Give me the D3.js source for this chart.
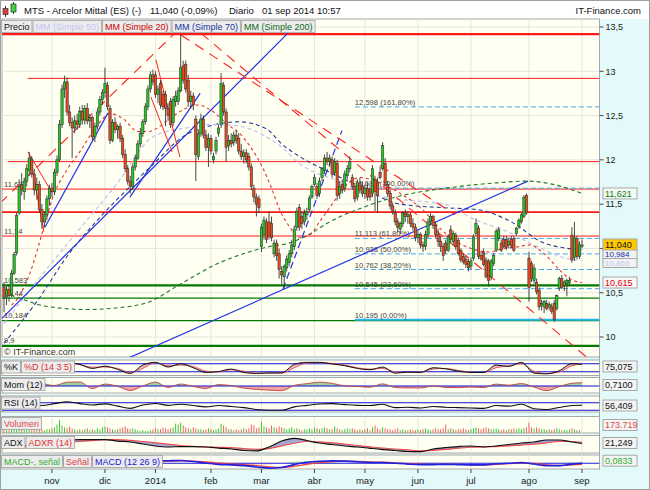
<!DOCTYPE html>
<html><head><meta charset="utf-8">
<script src="https://cdn.jsdelivr.net/npm/d3@7"></script>
<style>
body{margin:0;background:#fff;}
svg{display:block;font-family:"Liberation Sans",Arial,sans-serif;}
</style></head><body>
<svg id="c" width="650" height="490"></svg>
<script>
// ---------------- DATA ----------------
const candles = [
[10.56,10.62,10.28,10.45],[10.45,10.58,10.36,10.54],[10.54,10.60,10.40,10.47],[10.48,10.76,10.45,10.72],[10.72,10.96,10.70,10.93],
[10.95,11.40,10.92,11.37],[11.40,11.78,11.38,11.70],[11.72,11.85,11.60,11.66],[11.64,11.80,11.55,11.76],[11.76,11.95,11.70,11.90],
[11.88,12.09,11.82,12.02],[12.00,12.04,11.80,11.84],[11.84,11.90,11.60,11.66],[11.66,11.80,11.55,11.72],[11.72,11.76,11.40,11.44],
[11.44,11.50,11.22,11.30],[11.30,11.42,11.24,11.38],[11.38,11.60,11.32,11.56],[11.56,11.72,11.48,11.68],[11.68,11.74,11.58,11.64],
[11.64,11.90,11.60,11.86],[11.86,12.05,11.82,12.00],[12.00,12.45,11.98,12.40],[12.40,12.85,12.36,12.80],[12.80,12.95,12.70,12.88],
[12.88,12.93,12.50,12.54],[12.54,12.62,12.38,12.42],[12.42,12.48,12.02,12.36],[12.36,12.50,12.30,12.44],[12.44,12.52,12.34,12.40],
[12.40,12.60,12.36,12.55],[12.55,12.62,12.40,12.45],[12.45,12.62,12.40,12.58],[12.58,12.64,12.40,12.44],[12.44,12.52,12.36,12.48],
[12.48,12.50,12.22,12.26],[12.26,12.42,12.20,12.38],[12.38,12.58,12.34,12.54],[12.54,12.72,12.50,12.68],[12.68,12.80,12.62,12.76],
[12.76,13.04,12.70,12.86],[12.84,12.88,12.56,12.60],[12.58,12.62,12.18,12.22],[12.22,12.46,12.20,12.42],[12.42,12.48,12.30,12.34],
[12.34,12.40,12.24,12.38],[12.38,12.42,12.20,12.24],[12.24,12.28,12.02,12.06],[12.06,12.12,11.86,11.90],[11.90,11.94,11.72,11.76],
[11.76,11.82,11.62,11.70],[11.70,11.96,11.66,11.92],[11.92,12.06,11.88,12.02],[12.02,12.22,12.00,12.18],[12.18,12.36,12.14,12.30],
[12.30,12.46,12.26,12.43],[12.43,12.64,12.40,12.60],[12.60,12.84,12.56,12.80],[12.80,13.00,12.76,12.96],[12.96,13.02,12.84,12.88],
[12.96,13.00,12.70,12.74],[12.74,12.84,12.64,12.80],[12.86,12.90,12.58,12.62],[12.74,12.78,12.56,12.60],[12.74,12.78,12.38,12.58],
[12.58,12.64,12.44,12.50],[12.66,12.70,12.36,12.40],[12.42,12.72,12.38,12.68],[12.66,12.78,12.60,12.72],[12.66,12.82,12.62,12.78],
[12.78,13.41,12.76,13.04],[13.06,13.12,12.86,12.90],[13.08,13.12,12.76,12.80],[12.90,12.96,12.60,12.66],[12.66,12.78,12.58,12.72],
[12.72,12.76,12.56,12.62],[12.46,12.50,11.76,12.06],[12.04,12.34,12.00,12.30],[12.30,12.52,12.26,12.46],[12.46,12.50,12.24,12.28],
[12.28,12.34,12.10,12.14],[12.14,12.30,11.92,12.24],[12.24,12.28,12.06,12.10],[12.00,12.08,11.96,12.04],[12.10,12.26,12.06,12.22],
[12.30,12.40,12.26,12.36],[12.40,12.98,12.36,12.86],[12.84,12.88,12.50,12.54],[12.54,12.58,11.98,12.14],[12.16,12.28,12.10,12.22],
[12.22,12.30,12.14,12.18],[12.20,12.32,12.16,12.28],[12.28,12.34,12.18,12.22],[12.24,12.30,12.06,12.10],[12.10,12.18,12.00,12.04],
[12.04,12.12,11.96,12.08],[12.08,12.12,11.96,12.00],[12.04,12.08,11.88,11.92],[11.92,11.96,11.66,11.70],[11.68,11.72,11.52,11.58],
[11.58,11.62,11.36,11.50],[11.56,11.60,11.40,11.46],[11.02,11.28,10.96,11.24],[11.16,11.36,11.10,11.32],[11.30,11.34,11.06,11.10],
[11.30,11.42,11.10,11.14],[11.28,11.36,11.08,11.12],[10.94,11.10,10.90,11.06],[11.06,11.10,10.86,10.92],[10.94,11.00,10.66,10.76],
[10.74,10.80,10.60,10.70],[10.68,10.82,10.55,10.80],[10.78,10.92,10.74,10.88],[10.84,10.98,10.80,10.94],[10.94,11.10,10.90,11.04],
[11.02,11.26,10.98,11.22],[11.24,11.46,11.20,11.42],[11.46,11.50,11.20,11.24],[11.36,11.42,11.22,11.28],[11.30,11.44,11.26,11.40],
[11.38,11.46,11.32,11.42],[11.44,11.60,11.42,11.57],[11.58,11.72,11.56,11.70],[11.72,11.84,11.70,11.80],[11.70,11.74,11.56,11.60],
[11.62,11.80,11.58,11.76],[11.80,11.92,11.76,11.90],[11.88,12.06,11.84,12.02],[12.02,12.09,11.94,11.98],[11.98,12.06,11.92,12.02],
[12.00,12.04,11.80,11.84],[11.86,12.02,11.82,11.98],[11.96,12.00,11.54,11.60],[11.62,11.76,11.56,11.70],[11.72,11.78,11.62,11.66],
[11.68,11.88,11.64,11.84],[11.82,11.94,11.78,11.90],[11.90,12.04,11.86,11.98],[11.80,11.84,11.66,11.70],[11.70,11.74,11.52,11.56],
[11.58,11.78,11.54,11.74],[11.74,11.80,11.62,11.66],[11.70,11.76,11.58,11.62],[11.62,11.72,11.56,11.68],[11.68,11.74,11.54,11.58],
[11.66,11.70,11.54,11.58],[11.62,11.94,11.58,11.90],[11.78,11.82,11.42,11.64],[11.74,11.80,11.40,11.60],[11.86,11.92,11.78,11.80],
[11.90,12.20,11.88,12.16],[11.96,12.02,11.70,11.74],[11.72,11.76,11.58,11.62],[11.62,11.66,11.44,11.48],[11.48,11.52,11.38,11.42],
[11.40,11.44,11.26,11.30],[11.30,11.34,11.18,11.24],[11.22,11.30,11.16,11.28],[11.28,11.42,11.24,11.40],[11.40,11.44,11.30,11.36],
[11.36,11.42,11.28,11.38],[11.38,11.40,11.24,11.28],[11.28,11.34,11.20,11.24],[11.24,11.28,11.08,11.12],[11.12,11.20,11.06,11.16],
[11.16,11.18,11.00,11.04],[11.04,11.08,10.96,11.02],[11.02,11.20,10.98,11.16],[11.16,11.34,11.12,11.30],[11.30,11.40,11.26,11.36],
[11.36,11.38,11.22,11.26],[11.26,11.30,11.12,11.16],[11.16,11.22,11.02,11.08],[11.08,11.14,10.96,11.02],[11.02,11.06,10.86,10.92],
[11.06,11.10,10.94,10.98],[10.98,11.16,10.96,11.13],[11.21,11.26,11.06,11.10],[11.08,11.20,11.04,11.17],[11.15,11.18,10.98,11.02],
[11.09,11.12,10.92,10.94],[10.98,11.00,10.84,10.87],[10.91,10.94,10.82,10.85],[10.88,10.92,10.78,10.82],[10.85,10.88,10.74,10.78],
[10.80,10.90,10.76,10.86],[10.89,11.16,10.86,11.13],[11.17,11.34,11.14,11.28],[11.23,11.26,10.88,10.91],[10.92,10.96,10.86,10.88],
[10.96,11.00,10.80,10.82],[10.87,10.90,10.66,10.68],[10.85,10.88,10.57,10.64],[10.68,10.88,10.64,10.86],[10.83,10.95,10.80,10.92],
[10.98,11.22,10.96,11.19],[11.11,11.24,11.08,11.21],[11.06,11.10,10.96,10.98],[11.10,11.14,11.00,11.02],[11.10,11.14,10.98,11.01],
[11.04,11.12,11.00,11.08],[11.10,11.14,11.00,11.03],[11.11,11.14,10.96,10.98],[11.17,11.24,11.14,11.23],[11.25,11.34,11.22,11.32],
[11.30,11.40,11.28,11.38],[11.36,11.60,11.34,11.58],[11.60,11.62,11.38,11.40],[10.89,10.96,10.40,10.56],[10.83,10.86,10.62,10.66],
[10.64,10.82,10.60,10.78],[10.62,10.66,10.48,10.51],[10.53,10.56,10.30,10.34],[10.36,10.42,10.30,10.38],[10.34,10.42,10.27,10.40],
[10.38,10.42,10.30,10.32],[10.34,10.40,10.30,10.37],[10.34,10.38,10.26,10.29],[10.38,10.42,10.17,10.20],[10.32,10.48,10.30,10.47],
[10.55,10.68,10.52,10.66],[10.66,10.70,10.54,10.56],[10.58,10.64,10.52,10.62],[10.60,10.66,10.46,10.64],[10.61,10.68,10.58,10.64],
[11.15,11.24,10.84,10.87],[10.90,11.30,10.86,11.12],[11.11,11.14,10.88,10.91],[10.91,11.08,10.88,11.04],[11.02,11.10,11.00,11.04]
];
const volume = [
4,3,3,5,6,8,7,5,4,4,6,5,4,4,5,4,3,4,4,
5,6,9,14,8,6,5,7,5,4,3,4,3,4,5,3,4,3,5,4,6,
7,6,5,4,3,4,5,6,7,5,4,5,4,3,2,3,2,2,3,4,
5,4,4,6,5,4,5,6,10,9,11,8,6,5,4,6,5,4,4,3,4,5,
4,3,4,5,10,8,6,4,4,3,4,3,4,5,4,5,9,8,5,6,
12,7,6,5,8,6,5,7,6,5,4,5,6,4,5,4,3,4,4,5,4,
6,5,4,5,6,5,4,4,7,5,4,3,4,5,4,5,4,3,4,3,
4,5,3,6,8,5,4,6,5,4,4,3,4,5,3,4,3,3,4,3,3,
4,3,4,5,4,3,4,5,4,4,5,9,4,5,4,3,4,4,5,4,3,
4,5,6,5,4,5,6,5,4,4,5,4,3,4,3,4,4,5,4,5,4,5,6,
11,6,5,6,5,4,4,3,4,3,4,5,4,3,3,3,4,5,4,3,3,
0.17
];
const macdHist = [
3,4,4,5,5, 6,7,8,9,10, 10,8,7,5,4, 4,3,3,2,2, 2,3,4,5,6, 6,5,5,4,4, 4,3,2,1,0, -1,-1,0,0,0,
0,-1,-2,-3,-4, -5,-6,-7,-8,-8, -8,-7,-6,-4,-3, -3,-1,1,2,3, 4,4,3,3,3, 3,3,3,3,3, 3,1,0,-1,-2,
-3,-4,-5,-6,-7, -8,-9,-9,-10,-10, -10,-9,-8,-8,-7, -7,-7,-7,-7,-7, -7,-8,-9,-9,-10, -10,-10,-10,-10,-10,
-10,-8,-6,-4,-2, -1,2,5,8,10, 12,13,14,15,16, 16,15,14,13,12, 11,10,9,8,7, 6,5,4,3,2,
1,0,-1,-1,-2, -2,-3,-3,-4,-4, -4,-3,-3,-2,-2, -2,-3,-3,-4,-4, -4,-4,-4,-4,-4, -4,-4,-3,-3,-3,
-3,-2,-2,-1,-1, -1,0,1,1,1, 1,1,0,0,-1, -1,-1,-1,-1,-1, -1,-1,-1,0,0, 0,1,2,3,4,
4,4,4,3,3, 3,3,3,3,3, 3,2,0,-3,-5, -6,-6,-6,-6,-6, -6,-5,-4,-3,-2, -1,1,3,4,5, 6,6,7,8,8
];
// moving averages: [bar index, value]
const ma20 = [[3,10.36],[5,10.42],[10,10.70],[16,11.26],[19,11.55],[25,11.89],[30,12.09],[37,12.39],[42,12.52],[47,12.47],[53,12.32],[57,12.32],[66,12.47],[70,12.55],[77,12.62],[82,12.56],[89,12.39],[94,12.28],[98,12.13],[102,11.94],[106,11.68],[109,11.45],[113,11.25],[117,11.12],[121,11.15],[125,11.30],[130,11.50],[135,11.70],[141,11.80],[149,11.74],[157,11.62],[165,11.46],[173,11.22],[179,11.08],[185,11.00],[192,10.96],[198,11.00],[204,11.02],[208,11.04],[214,10.94],[220,10.76],[224,10.66],[229,10.615]];
const ma50 = [[0,10.15],[15,10.70],[30,11.22],[45,11.74],[58,12.24],[66,12.33],[72,12.36],[80,12.40],[91,12.39],[104,12.26],[111,12.12],[117,11.96],[123,11.86],[129,11.80],[141,11.64],[155,11.56],[174,11.50],[187,11.32],[201,11.17],[207,11.08],[216,10.96],[224,10.88],[229,10.869]];
const ma70 = [[0,9.93],[13,10.40],[26,10.95],[38,11.35],[50,11.70],[58,11.92],[72,12.28],[80,12.37],[93,12.43],[104,12.35],[110,12.18],[117,12.04],[129,11.86],[141,11.70],[157,11.50],[174,11.46],[187,11.44],[201,11.30],[214,11.06],[229,10.984]];
const ma200 = [[0,10.50],[6,10.44],[16,10.35],[33,10.31],[45,10.33],[57,10.39],[70,10.60],[84,10.82],[97,10.96],[105,11.02],[113,11.06],[121,11.16],[129,11.30],[142,11.46],[155,11.58],[175,11.68],[195,11.74],[207,11.76],[218,11.72],[229,11.621]];
// indicator samples
const sampleIdx = [0,5,10,15,20,25,30,35,40,45,50,55,60,65,70,75,80,85,90,95,100,105,110,115,120,125,130,135,140,145,150,155,160,165,170,175,180,185,190,195,200,205,210,215,220,225,229];
const stochK = [70,90,92,35,75,88,75,45,62,38,8,70,90,55,80,50,15,22,40,15,8,12,12,75,90,90,78,65,45,35,55,10,18,15,50,42,25,15,15,70,60,90,10,5,28,80,75.075];
const stochD = [65,80,90,55,55,85,72,55,55,45,15,45,88,65,70,60,25,20,35,25,10,10,10,50,85,88,82,70,50,40,45,20,15,18,40,45,30,18,15,50,65,80,25,8,18,65,78];
const mom = [0.3,0.9,1.3,0.58,0.10,0.82,0.87,-0.54,0.42,-0.06,-0.98,0.01,0.84,-0.30,0.42,-0.10,-0.54,0.30,0.08,-0.46,-0.72,-0.90,-1.00,0.12,0.50,0.82,0.56,0.04,-0.10,-0.26,0.46,-0.32,-0.42,-0.44,0.02,-0.30,-0.36,-0.22,-0.35,0.41,0.17,0.52,-0.23,-1.00,-0.12,0.58,0.71];
const rsi = [55,68,72,55,65,75,65,58,64,52,40,58,66,56,62,55,48,55,50,44,34,30,30,48,56,63,65,60,56,55,62,44,46,42,50,46,44,42,40,55,52,62,38,34,45,55,56.409];
const adx = [16.1,17.3,19.5,21.8,24,25.2,25.7,25.7,25.7,24,22.9,20.7,18.4,17.3,17.8,17.8,17.3,16.1,15,13.3,12.8,17.3,24,27.1,24.6,21.8,20.1,18.4,17.3,15.8,14.4,13.3,12.2,12,15,16.7,17.8,18.4,17.3,18.4,20.1,21.8,22.9,25.2,25.2,22.9,21.249];
const adxr = [17,17,17.5,18.5,20,22,23.5,24.5,25.5,25.5,24.7,23.5,22,20.5,19,18,17.5,17,16.5,15.5,14.7,15.5,18.5,21.5,23.5,23,22,20.5,19,17.5,16,15,14,13,13.5,14.5,16,17,17.5,17.8,18.5,19.5,20.5,22,23.5,23.5,22.5];
const macd = [0.05,0.12,0.22,0.22,0.24,0.32,0.34,0.30,0.30,0.22,0.10,0.10,0.18,0.20,0.22,0.14,0.02,-0.08,-0.12,-0.18,-0.28,-0.37,-0.32,-0.10,0.08,0.16,0.19,0.17,0.12,0.06,0.06,0.0,-0.06,-0.10,-0.10,-0.08,-0.10,-0.12,-0.12,-0.04,0.0,0.06,-0.06,-0.18,-0.18,-0.06,0.0];
const signal = [0.02,0.06,0.12,0.18,0.22,0.26,0.30,0.31,0.30,0.27,0.18,0.13,0.14,0.17,0.19,0.17,0.10,0.02,-0.05,-0.11,-0.18,-0.27,-0.31,-0.22,-0.08,0.05,0.13,0.16,0.14,0.10,0.08,0.04,-0.02,-0.07,-0.09,-0.09,-0.09,-0.11,-0.12,-0.08,-0.03,0.03,0.0,-0.12,-0.17,-0.12,-0.083];
// axis / annotations
const monthIdx = [19,40,60,82,102,123,143,164,185,208,229];
const monthLbl = ["nov","dic","2014","feb","mar","abr","may","jun","jul","ago","sep"];
const priceTicks = [10,10.5,11,11.5,12,12.5,13,13.5];
// "11" is hidden behind the last-value boxes in the reference
const priceTickLbl = ["10","10,5","","11,5","12","12,5","13","13,5"];
const redLevels = [13.42,12.92,11.98,11.67,11.41,11.14];
const redLevelStart = [-2,9.5,1.6,-2,-2,-2];
const greenLevels = [10.583,10.44,10.184,9.9];
const leftLabels = ["11,67","11,14","10,583","10,44","10,184","9,9"];
const leftLabelVals = [11.67,11.14,10.583,10.44,10.184,9.9];
const fibVals = [10.195,10.546,10.762,10.938,11.113,11.681,12.598];
const fibLbl = ["10,195 (0,00%)","10,545 (23,60%)","10,762 (38,20%)","10,938 (50,00%)","11,113 (61,80%)","11,681 (100,00%)","12,598 (161,80%)"];
const fibStart = 139;
const blueLines = [[[-0.8,10.21],[112.5,13.43]],[[16.2,11.24],[41.2,12.53]],[[49.9,11.58],[77.7,12.75]],[[47.5,9.74],[207.6,11.76]]];
const blueDashLines = [[[110.5,10.54],[133.9,12.33]]];
const redLines = [[[9.5,12.09],[19,11.63]],[[10.3,12.04],[15.8,11.19]],[[60.2,13.13],[69.7,12.03]],[[58.2,12.71],[66.6,12.09]]];
const redDashLines = [[[-1.6,11.51],[67.7,13.43]],[[70.1,13.41],[178.7,11.38]],[[78.0,13.43],[232.2,9.74]]];
const lastVals = {ma200:"11,621",close:"11,040",ma70:"10,984",ma50:"10,869",ma20:"10,615"};

// ---------------- DRAW ----------------
const svg = d3.select("#c");
const X = d3.scaleLinear().domain([0,229]).range([4,582]);
const Y = d3.scaleLinear().domain([10,13.5]).range([337,27]);
const PL=2, PR=599.5, PT=19, PB=357;
const IVORY="#fffff2", CYAN="#e4fafa", GRID="#e6e6e0";
const UP="#22cc22", DN="#f04a1a";

svg.append("rect").attr("width",650).attr("height",490).attr("fill","#fff");
svg.append("rect").attr("x",PR).attr("y",PT).attr("width",650-PR-1).attr("height",470-PT).attr("fill",CYAN);
svg.append("rect").attr("x",1).attr("y",PB).attr("width",648).attr("height",132).attr("fill",CYAN);
svg.append("rect").attr("x",0.5).attr("y",0.5).attr("width",649).attr("height",489).attr("fill","none").attr("stroke","#a0a0a0");
svg.append("line").attr("x1",PR).attr("x2",PR).attr("y1",PT).attr("y2",469).attr("stroke","#a0a0a0");

// header
const hd = svg.append("g").attr("font-size",9.5).attr("fill","#111");
hd.append("line").attr("x1",5.5).attr("x2",5.5).attr("y1",6).attr("y2",17).attr("stroke","#333");
hd.append("rect").attr("x",3).attr("y",8.5).attr("width",5).attr("height",6).attr("fill","#e04040").attr("stroke","#333").attr("stroke-width",0.7);
hd.append("line").attr("x1",13.5).attr("x2",13.5).attr("y1",2).attr("y2",14).attr("stroke","#333");
hd.append("rect").attr("x",11).attr("y",4).attr("width",5).attr("height",8).attr("fill","#40d040").attr("stroke","#333").attr("stroke-width",0.7);
hd.append("text").attr("x",24).attr("y",14).text("MTS - Arcelor Mittal (ES) (-)");
hd.append("text").attr("x",150).attr("y",14).text("11,040 (-0,09%)");
hd.append("text").attr("x",229).attr("y",14).text("Diario");
hd.append("text").attr("x",262).attr("y",14).text("01 sep 2014 10:57");
hd.append("text").attr("x",641).attr("y",14).attr("text-anchor","end").text("IT-Finance.com");

// main panel
svg.append("rect").attr("x",PL).attr("y",PT).attr("width",PR-PL).attr("height",PB-PT).attr("fill",IVORY).attr("stroke","#a8a8a8");
svg.append("clipPath").attr("id","mc").append("rect").attr("x",PL).attr("y",PT).attr("width",PR-PL).attr("height",PB-PT);
const m = svg.append("g").attr("clip-path","url(#mc)");
m.selectAll(".hg").data(priceTicks).join("line").attr("x1",PL).attr("x2",PR).attr("y1",d=>Y(d)).attr("y2",d=>Y(d)).attr("stroke",GRID);
m.selectAll(".vg").data(monthIdx).join("line").attr("x1",d=>X(d)).attr("x2",d=>X(d)).attr("y1",PT).attr("y2",PB).attr("stroke",GRID);

m.selectAll(".rl").data(redLevels).join("line")
 .attr("x1",(d,i)=>X(redLevelStart[i])).attr("x2",PR).attr("y1",d=>Y(d)).attr("y2",d=>Y(d))
 .attr("stroke","#ff1a1a").attr("stroke-width",(d,i)=>i===0?2.2:(i===4?1.6:1));
m.selectAll(".gl").data(greenLevels).join("line")
 .attr("x1",PL).attr("x2",PR).attr("y1",d=>Y(d)).attr("y2",d=>Y(d))
 .attr("stroke","#007a00").attr("stroke-width",(d,i)=>(i===0||i===3)?2.4:1.3);
m.selectAll(".fl").data(fibVals).join("line")
 .attr("x1",X(fibStart)).attr("x2",PR).attr("y1",d=>Y(d)).attr("y2",d=>Y(d))
 .attr("stroke",(d,i)=>i===0?"#22b8ee":"#44aaf0").attr("stroke-width",(d,i)=>i===0?2:1)
 .attr("stroke-dasharray",(d,i)=>i===0?null:"5,3");
m.selectAll(".ft").data(fibVals).join("text")
 .attr("x",X(fibStart)).attr("y",d=>Y(d)-2).attr("font-size",7.6).attr("fill","#444")
 .text((d,i)=>fibLbl[i]);
m.selectAll(".lt").data(leftLabelVals).join("text")
 .attr("x",4).attr("y",d=>Y(d)-2.5).attr("font-size",7.6).attr("fill","#444")
 .text((d,i)=>leftLabels[i]);

const maLine = d3.line().x(d=>X(d[0])).y(d=>Y(d[1])).curve(d3.curveMonotoneX);
[[ma200,"#1f7a2a","4,3",1.1],[ma70,"#1e3c9c","4,3",1.1],[ma50,"#c4c4f2","4,3",1.3],[ma20,"#e83030","3,3",1.1]].forEach(([d,c,da,w])=>{
  m.append("path").attr("d",maLine(d)).attr("fill","none").attr("stroke",c).attr("stroke-width",w).attr("stroke-dasharray",da);
});
const seg = d3.line().x(d=>X(d[0])).y(d=>Y(d[1]));
blueLines.forEach(s=>m.append("path").attr("d",seg(s)).attr("stroke","#2633e6").attr("stroke-width",1.2).attr("fill","none"));
blueDashLines.forEach(s=>m.append("path").attr("d",seg(s)).attr("stroke","#2633e6").attr("stroke-width",1.2).attr("stroke-dasharray","7,4").attr("fill","none"));
redLines.forEach(s=>m.append("path").attr("d",seg(s)).attr("stroke","#ff2020").attr("stroke-width",1).attr("fill","none"));
redDashLines.forEach(s=>m.append("path").attr("d",seg(s)).attr("stroke","#ff2020").attr("stroke-width",1.1).attr("stroke-dasharray","10,7").attr("fill","none"));

const cg = m.append("g");
cg.selectAll(".wk").data(candles).join("line")
 .attr("x1",(d,i)=>X(i)).attr("x2",(d,i)=>X(i)).attr("y1",d=>Y(d[1])).attr("y2",d=>Y(d[2]))
 .attr("stroke","#333").attr("stroke-width",0.9);
cg.selectAll(".bd").data(candles).join("rect")
 .attr("x",(d,i)=>X(i)-1.15).attr("width",2.3)
 .attr("y",d=>Y(Math.max(d[0],d[3])))
 .attr("height",d=>Math.max(0.8,Math.abs(Y(d[0])-Y(d[3]))))
 .attr("fill",d=>d[3]>=d[0]?UP:DN).attr("stroke","#333").attr("stroke-width",0.6);

const tabs = [["Precio","#111"],["MM (Simple 50)","#c4c4f2"],["MM (Simple 20)","#d00000"],["MM (Simple 70)","#1a34a0"],["MM (Simple 200)","#106a1a"]];
function tabRow(g, items, x0, y0, h, fs){
  let x=x0;
  items.forEach(([t,c])=>{
    const gg=g.append("g");
    const r=gg.append("rect").attr("x",x).attr("y",y0).attr("height",h).attr("fill","#ececec").attr("stroke","#a0a0a0").attr("stroke-width",0.8);
    const tx=gg.append("text").attr("x",x+2.5).attr("y",y0+h-3).attr("font-size",fs).attr("fill",c).text(t);
    const w=tx.node().getComputedTextLength()+5;
    r.attr("width",w); x+=w+1;
  });
}
tabRow(svg.append("g"), tabs, 1.5, 20.5, 12, 9);
svg.append("text").attr("x",4).attr("y",355).attr("font-size",9).attr("fill","#333").text("© IT-Finance.com");

// right axis main
const ax = svg.append("g").attr("font-size",9).attr("fill","#222");
ax.selectAll(".tk").data(priceTicks).join("line").attr("x1",PR).attr("x2",PR+4).attr("y1",d=>Y(d)).attr("y2",d=>Y(d)).attr("stroke","#444");
ax.selectAll(".tl").data(priceTicks.filter((d,i)=>priceTickLbl[i]!=="")).join("text").attr("x",PR+6).attr("y",d=>Y(d)+3.3)
  .text(d=>priceTickLbl[priceTicks.indexOf(d)]);
function valBox(v, txt, fg, bg, yy, fs, bh){
  const y = yy!==undefined&&yy!==null?yy:Y(v);
  fs = fs||9; bh = bh||11;
  svg.append("rect").attr("x",603).attr("y",y-bh/2).attr("width",34).attr("height",bh).attr("fill",bg).attr("stroke","#a8a8a8");
  svg.append("text").attr("x",605).attr("y",y+fs*0.36).attr("font-size",fs).attr("fill",fg).text(txt);
}
valBox(11.621,lastVals.ma200,"#0a7a0a","#f6fbf6");
valBox(10.869,lastVals.ma50,"#c4c4f2","#f2f2f2",263,8,9);
valBox(10.984,lastVals.ma70,"#0a2aa0","#f2f2f2",254,8,9);
valBox(11.040,lastVals.close,"#111","#ffc800",244.5);
valBox(10.615,lastVals.ma20,"#e00000","#f8f8f8");

// ---------- sub panels ----------
const XS = i=>X(sampleIdx[i]);
function panel(t,b){
  svg.append("rect").attr("x",PL).attr("y",t).attr("width",PR-PL).attr("height",b-t).attr("fill",IVORY).attr("stroke","#a8a8a8");
  const id="p"+Math.round(t);
  svg.append("clipPath").attr("id",id).append("rect").attr("x",PL).attr("y",t).attr("width",PR-PL).attr("height",b-t);
  const g=svg.append("g").attr("clip-path",`url(#${id})`);
  g.selectAll(".v").data(monthIdx).join("line").attr("x1",d=>X(d)).attr("x2",d=>X(d)).attr("y1",t).attr("y2",b).attr("stroke",GRID);
  return g;
}
function hline(g,y,c){ g.append("line").attr("x1",PL).attr("x2",PR).attr("y1",y).attr("y2",y).attr("stroke",c||"#1010d8").attr("stroke-width",1.1); }

{
  const t=360,b=375.5, ys=d3.scaleLinear().domain([0,100]).range([374.5,361]);
  const g=panel(t,b);
  g.append("path").attr("d",d3.area().x((d,i)=>XS(i)).y0((d,i)=>ys(stochD[i])).y1(d=>ys(d)).curve(d3.curveMonotoneX)(stochK)).attr("fill","#eeb4bc");
  hline(g,ys(80)); hline(g,ys(20));
  g.append("path").attr("d",d3.line().x((d,i)=>XS(i)).y(d=>ys(d)).curve(d3.curveMonotoneX)(stochD)).attr("fill","none").attr("stroke","#e06060");
  g.append("path").attr("d",d3.line().x((d,i)=>XS(i)).y(d=>ys(d)).curve(d3.curveMonotoneX)(stochK)).attr("fill","none").attr("stroke","#111");
  tabRow(svg.append("g"),[["%K","#111"],["%D (14 3 5)","#e03030"]],1.5,t+1,12,9);
  valBox(0,"75,075","#111","#f4f4f4",366.5);
}
{
  const t=377.5,b=393, ys=d3.scaleLinear().domain([-1,1]).range([390.65,381.35]);
  const g=panel(t,b);
  const z=ys(0);
  const ar=d3.area().x((d,i)=>XS(i)).y0(z).y1(d=>ys(d)).curve(d3.curveMonotoneX);
  svg.append("clipPath").attr("id","mAbove").append("rect").attr("x",PL).attr("y",t).attr("width",PR-PL).attr("height",z-t);
  svg.append("clipPath").attr("id","mBelow").append("rect").attr("x",PL).attr("y",z).attr("width",PR-PL).attr("height",b-z);
  g.append("path").attr("d",ar(mom)).attr("fill","#9fd09f").attr("clip-path","url(#mAbove)");
  g.append("path").attr("d",ar(mom)).attr("fill","#f0a4a4").attr("clip-path","url(#mBelow)");
  hline(g,z);
  g.append("path").attr("d",d3.line().x((d,i)=>XS(i)).y(d=>ys(d)).curve(d3.curveMonotoneX)(mom)).attr("fill","none").attr("stroke","#c04040").attr("stroke-width",0.9);
  tabRow(svg.append("g"),[["Mom (12)","#111"]],1.5,t+1,12,9);
  valBox(0,"0,7100","#111","#f4f4f4",385);
}
{
  const t=396,b=412, ys=d3.scaleLinear().domain([30,70]).range([410.3,402.7]);
  const g=panel(t,b);
  hline(g,ys(70)); hline(g,ys(30));
  g.append("path").attr("d",d3.line().x((d,i)=>XS(i)).y(d=>ys(d)).curve(d3.curveMonotoneX)(rsi)).attr("fill","none").attr("stroke","#111").attr("stroke-width",1.1);
  tabRow(svg.append("g"),[["RSI (14)","#111"]],1.5,t+1,12,9);
  valBox(0,"56,409","#111","#f4f4f4",405.5);
}
{
  const t=416.5,b=433, ys=d3.scaleLinear().domain([0,16]).range([433,418]);
  const g=panel(t,b);
  g.selectAll(".vb").data(volume).join("line")
   .attr("x1",(d,i)=>X(i)).attr("x2",(d,i)=>X(i)).attr("y1",ys(0)).attr("y2",d=>ys(d))
   .attr("stroke",(d,i)=>candles[i][3]>=candles[i][0]?"#3cc83c":"#f06060").attr("stroke-width",1);
  tabRow(svg.append("g"),[["Volumen","#e04848"]],1.5,t+1,12,9);
  valBox(0,"173.719","#e04848","#f4f4f4",425);
}
{
  const t=435.5,b=453, ys=d3.scaleLinear().domain([10.5,29.7]).range([453,436]);
  const g=panel(t,b);
  g.append("path").attr("d",d3.area().x((d,i)=>XS(i)).y0((d,i)=>ys(adxr[i])).y1(d=>ys(d)).curve(d3.curveMonotoneX)(adx)).attr("fill","#a4a6d6");
  g.append("path").attr("d",d3.line().x((d,i)=>XS(i)).y(d=>ys(d)).curve(d3.curveMonotoneX)(adxr)).attr("fill","none").attr("stroke","#ee5050").attr("stroke-width",1.2);
  g.append("path").attr("d",d3.line().x((d,i)=>XS(i)).y(d=>ys(d)).curve(d3.curveMonotoneX)(adx)).attr("fill","none").attr("stroke","#111").attr("stroke-width",1.2);
  tabRow(svg.append("g"),[["ADX","#111"],["ADXR (14)","#e03030"]],1.5,t+1,12,9);
  valBox(0,"21,249","#111","#f4f4f4",443);
}
{
  const t=455,b=469, ys=d3.scaleLinear().domain([-0.1,0.1]).range([464.6,462.0]);
  const g=panel(t,b);
  const z=ys(0);
  g.selectAll(".hb").data(macdHist).join("line")
   .attr("x1",(d,i)=>X(i)).attr("x2",(d,i)=>X(i)).attr("y1",z).attr("y2",d=>ys(d/100))
   .attr("stroke",d=>d>=0?"#40c040":"#f07070").attr("stroke-width",1);
  hline(g,z,"#2020e0");
  g.append("path").attr("d",d3.line().x((d,i)=>XS(i)).y(d=>ys(d)).curve(d3.curveMonotoneX)(signal)).attr("fill","none").attr("stroke","#ee4040").attr("stroke-width",1.3);
  g.append("path").attr("d",d3.line().x((d,i)=>XS(i)).y(d=>ys(d)).curve(d3.curveMonotoneX)(macd)).attr("fill","none").attr("stroke","#2020e0").attr("stroke-width",1.6);
  tabRow(svg.append("g"),[["MACD-, señal","#30b030"],["Señal","#e04040"],["MACD (12 26 9)","#2020d0"]],1.5,t+0.5,12,9);
  valBox(0,"0,0833","#30b030","#f4f4f4",460.7);
}
const xa = svg.append("g");
xa.selectAll(".xt").data(monthIdx).join("line").attr("x1",d=>X(d)).attr("x2",d=>X(d)).attr("y1",469).attr("y2",473).attr("stroke","#444");
xa.selectAll(".xl").data(monthIdx).join("text").attr("x",d=>X(d)).attr("y",483.5).attr("text-anchor","middle")
  .attr("font-size",9.5).attr("fill","#222").text((d,i)=>monthLbl[i]);
</script>
</body></html>
